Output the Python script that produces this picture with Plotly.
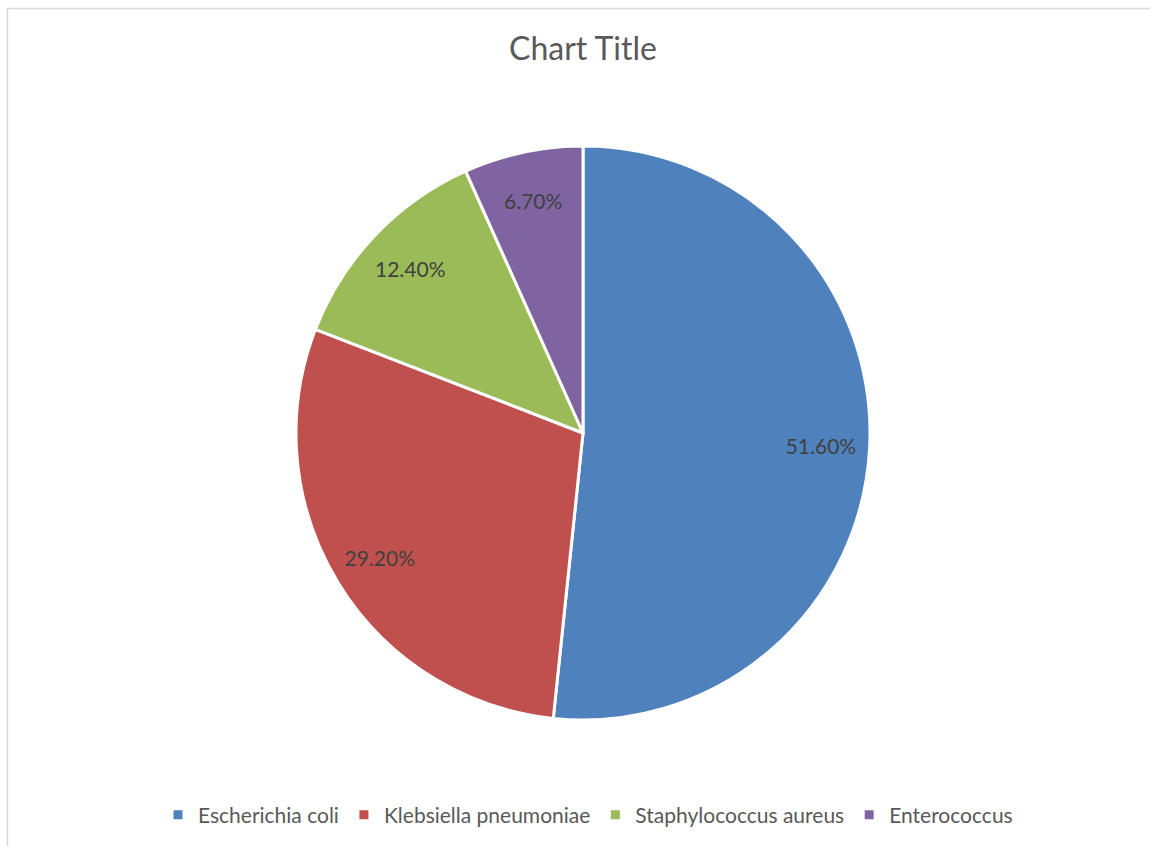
import plotly.graph_objects as go

categories = ["Escherichia coli", "Klebsiella pneumoniae", "Staphylococcus aureus", "Enterococcus"]
values = [51.6, 29.2, 12.4, 6.7]
colors = ["#4F81BD", "#C0504D", "#9BBB59", "#8064A2"]

W, H = 1150, 846
cx, cy, R = 583, 433, 287
dom = dict(x=[(cx - R) / W, (cx + R) / W], y=[1 - (cy + R) / H, 1 - (cy - R) / H])
font = "Lato, Open Sans, sans-serif"

fig = go.Figure()
fig.add_trace(go.Pie(
    labels=categories,
    values=values,
    sort=False,
    direction="clockwise",
    rotation=0,
    marker=dict(colors=colors, line=dict(color="white", width=3)),
    textinfo="none",
    hoverinfo="label+value",
    domain=dom,
))
# transparent ring overlay used only to place the data labels near the rim
fig.add_trace(go.Pie(
    labels=categories,
    values=values,
    sort=False,
    direction="clockwise",
    rotation=0,
    hole=0.66,
    marker=dict(colors=["rgba(0,0,0,0)"] * len(values), line=dict(width=0)),
    texttemplate="%{value:.2f}%",
    textposition="inside",
    insidetextorientation="horizontal",
    textfont=dict(family=font, size=21, color="#404040"),
    hoverinfo="skip",
    showlegend=False,
    domain=dom,
))

fig.update_layout(
    width=W, height=H,
    margin=dict(l=0, r=0, t=0, b=0),
    paper_bgcolor="white",
    title=dict(text="Chart Title", x=583 / W, xanchor="center", y=1 - 49 / H, yanchor="middle",
               font=dict(family=font, size=32, color="#595959")),
    showlegend=True,
    legend=dict(orientation="h", x=588 / W, xanchor="center", y=1 - 815 / H, yanchor="middle",
                font=dict(family=font, size=21, color="#595959"),
                itemwidth=30, traceorder="normal"),
    shapes=[dict(type="rect", xref="paper", yref="paper", x0=7.5 / W, x1=1.2, y0=-0.2, y1=1 - 8.5 / H,
                 line=dict(color="#D9D9D9", width=1.5), fillcolor="rgba(0,0,0,0)", layer="below")],
)

fig.write_html("out.html")
